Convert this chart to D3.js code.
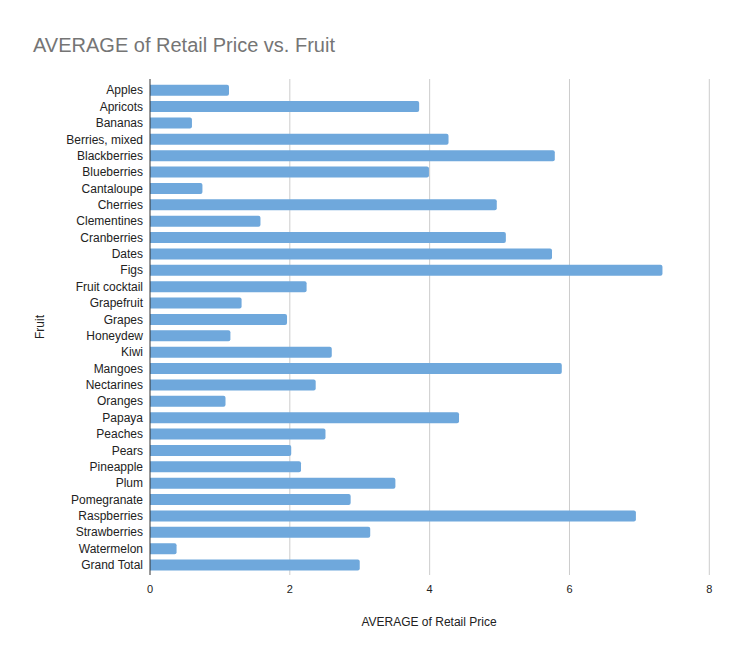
<!DOCTYPE html>
<html>
<head>
<meta charset="utf-8">
<script src="https://cdn.jsdelivr.net/npm/d3@7"></script>
<style>
  body { margin: 0; background: #fff; }
  text { font-family: Arial, "Liberation Sans", sans-serif; }
</style>
</head>
<body>
<svg id="drawing_region"></svg>
<script>
const fruits = ["Apples", "Apricots", "Bananas", "Berries, mixed", "Blackberries", "Blueberries",
    "Cantaloupe", "Cherries", "Clementines", "Cranberries", "Dates", "Figs", "Fruit cocktail",
    "Grapefruit", "Grapes", "Honeydew", "Kiwi", "Mangoes", "Nectarines", "Oranges", "Papaya",
    "Peaches", "Pears", "Pineapple", "Plum", "Pomegranate", "Raspberries", "Strawberries",
    "Watermelon", "Grand Total"];
const avgPrice = [1.13, 3.85, 0.60, 4.27, 5.79, 3.99,
    0.75, 4.96, 1.58, 5.09, 5.75, 7.33, 2.24,
    1.31, 1.96, 1.15, 2.60, 5.89, 2.37, 1.08, 4.42,
    2.51, 2.02, 2.16, 3.51, 2.87, 6.95, 3.15,
    0.38, 3.00];
const xTicks = [0, 2, 4, 6, 8];

const data = fruits.map((f, i) => ({ fruit: f, value: avgPrice[i] }));

const width = 743, height = 661;
const margin = { top: 82, right: 34, bottom: 88, left: 150 };
const inner_width = width - margin.left - margin.right;
const inner_height = height - margin.top - margin.bottom;

const svg = d3.select('#drawing_region')
    .attr('width', width)
    .attr('height', height);

svg.append('rect')
    .attr('width', width)
    .attr('height', height)
    .attr('fill', '#fff');

const chart = svg.append('g')
    .attr('transform', `translate(${margin.left}, ${margin.top})`);

const xscale = d3.scaleLinear()
    .domain([0, 8])
    .range([0, 559.3]);

const yscale = d3.scaleBand()
    .domain(fruits)
    .range([0, inner_height + 0.2])
    .paddingInner(0.33)
    .paddingOuter(0.165);

// vertical grid lines
chart.append('g')
    .selectAll('line')
    .data(xTicks.slice(1))
    .join('line')
    .attr('x1', d => xscale(d))
    .attr('x2', d => xscale(d))
    .attr('y1', -3)
    .attr('y2', inner_height + 2)
    .attr('stroke', '#cccccc')
    .attr('stroke-width', 1);

// bars, rounded on the right end
const r = 2;
chart.append('g')
    .selectAll('path')
    .data(data)
    .join('path')
    .attr('fill', '#6fa8dc')
    .attr('d', d => {
        const x0 = xscale(0), x1 = xscale(d.value);
        const y0 = yscale(d.fruit), h = yscale.bandwidth();
        return `M${x0},${y0}H${x1 - r}Q${x1},${y0} ${x1},${y0 + r}` +
               `V${y0 + h - r}Q${x1},${y0 + h} ${x1 - r},${y0 + h}H${x0}Z`;
    });

// y axis line
chart.append('line')
    .attr('x1', 0).attr('x2', 0)
    .attr('y1', -3).attr('y2', inner_height + 2)
    .attr('stroke', '#333333')
    .attr('stroke-width', 1);

// category labels
chart.append('g')
    .selectAll('text')
    .data(fruits)
    .join('text')
    .attr('x', -7)
    .attr('y', d => yscale(d) + yscale.bandwidth() / 2)
    .attr('dy', '0.35em')
    .attr('text-anchor', 'end')
    .attr('font-size', 12)
    .attr('fill', '#222222')
    .text(d => d);

// x tick labels
chart.append('g')
    .selectAll('text')
    .data(xTicks)
    .join('text')
    .attr('x', d => xscale(d))
    .attr('y', inner_height + 20)
    .attr('text-anchor', 'middle')
    .attr('font-size', 11)
    .attr('fill', '#222222')
    .text(d => d);

// title
svg.append('text')
    .attr('x', 33)
    .attr('y', 52)
    .attr('font-size', 20)
    .attr('fill', '#757575')
    .text('AVERAGE of Retail Price vs. Fruit');

// axis titles
svg.append('text')
    .attr('x', 429)
    .attr('y', 626)
    .attr('text-anchor', 'middle')
    .attr('font-size', 12)
    .attr('fill', '#222222')
    .text('AVERAGE of Retail Price');

svg.append('text')
    .attr('transform', 'translate(44, 327) rotate(-90)')
    .attr('text-anchor', 'middle')
    .attr('font-size', 12)
    .attr('fill', '#222222')
    .text('Fruit');
</script>
</body>
</html>
